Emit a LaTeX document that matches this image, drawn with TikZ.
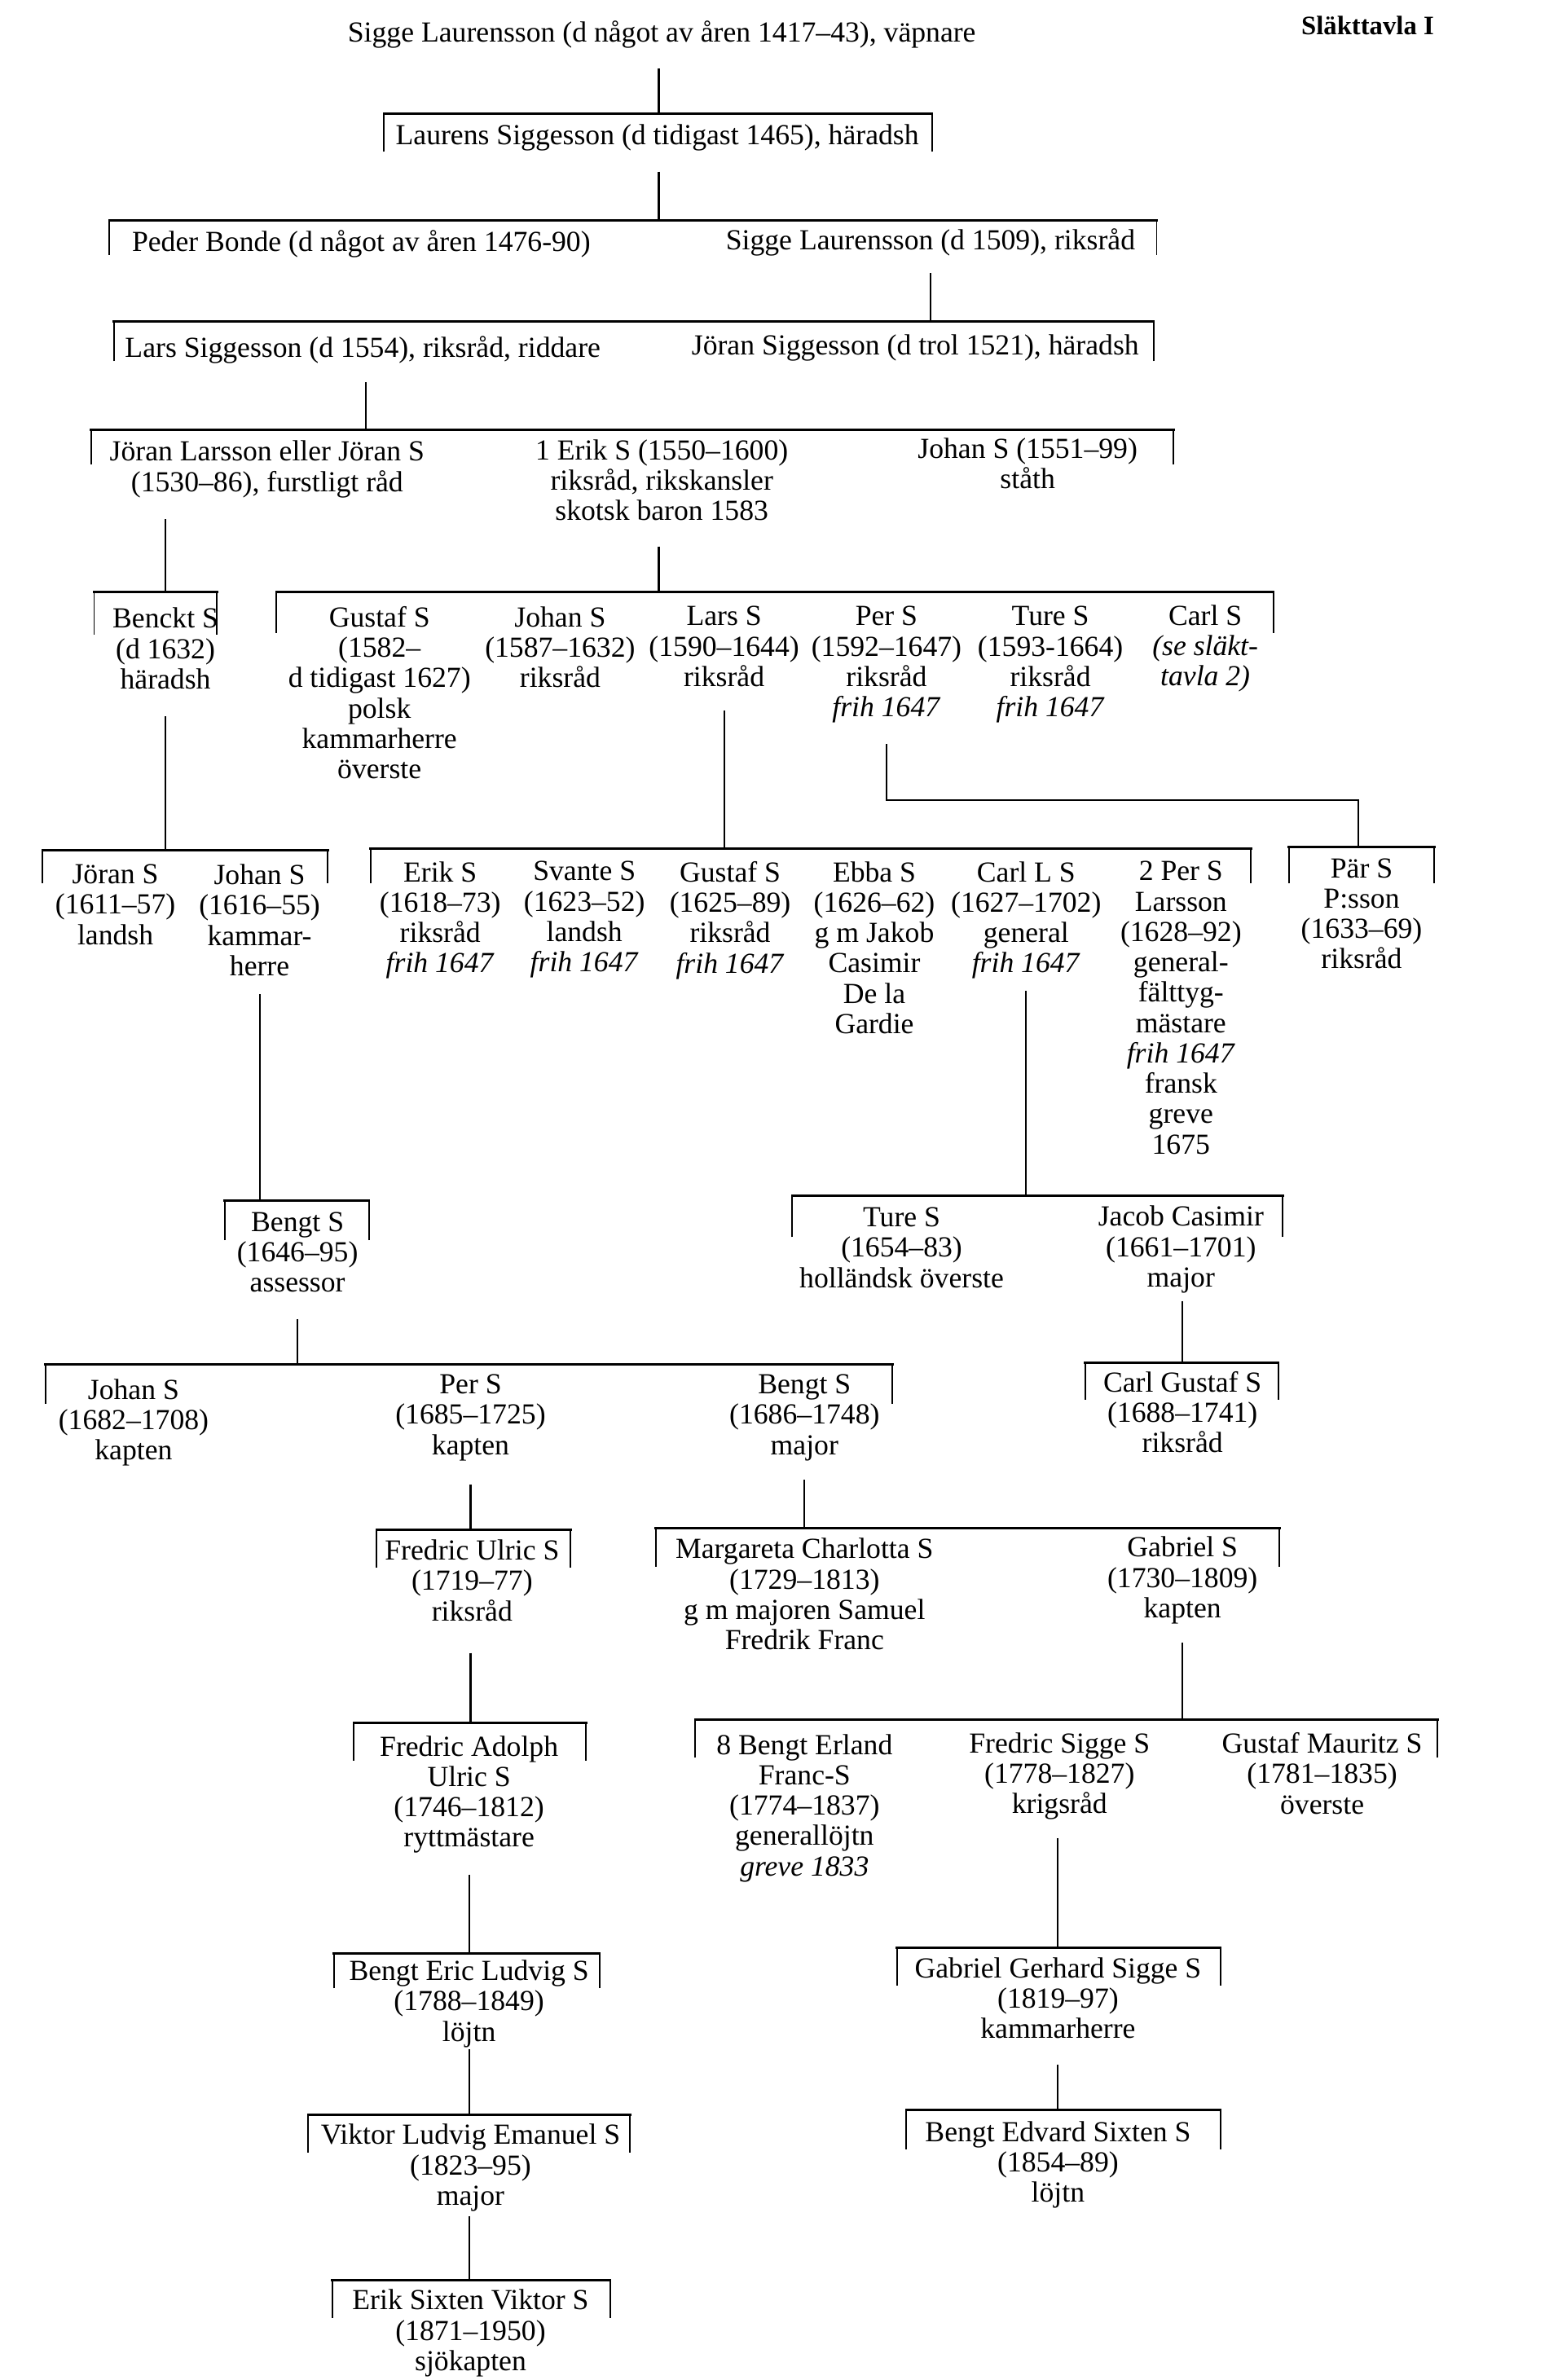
\documentclass[tikz,border=0pt]{standalone}
\usepackage{fontspec}
\setmainfont{Liberation Serif}
\newcommand\famgroup[4]{% xl, xr, ybar, ytickbottom
  \draw[tick] (#1,#4) -- (#1,#3);
  \draw[tick] (#2,#4) -- (#2,#3);
  \draw[bar] (#1,#3) -- (#2,#3);
}
\newcommand\dropline[4]{% name, x, ytop, ybottom
  \coordinate (#1s) at (#2,#3);
  \coordinate (#1e) at (#2,#4);
  \draw[drop] (#1s) -- (#1e);
}
\begin{document}
\begin{tikzpicture}[x=0.018627cm, y=-0.018627cm,
  person/.style={anchor=north, align=center, inner sep=0pt, yshift=-0.04cm, font=\fontsize{10.15pt}{10.6pt}\selectfont, execute at begin node=\strut},
  bar/.style={line width=0.85pt, line cap=rect},
  tick/.style={line width=0.55pt},
  drop/.style={line width=0.6pt}]
\fill[white] (0,0) rectangle (1020,1568);
\useasboundingbox (0,0) rectangle (1020,1568);

% ---------- persons ----------
\node[person] (p0) at (436,11) {Sigge Laurensson (d något av åren 1417–43), väpnare};
\node[anchor=base, inner sep=0pt, font=\bfseries\fontsize{9.3pt}{10pt}\selectfont] (title) at (901,23) {Släkttavla I};

\node[person] (p1) at (433,79) {Laurens Siggesson (d tidigast 1465), häradsh};
\node[person] (p2a) at (238,149) {Peder Bonde (d något av åren 1476-90)};
\node[person] (p2b) at (613,148) {Sigge Laurensson (d 1509), riksråd};
\node[person] (p3a) at (239,219) {Lars Siggesson (d 1554), riksråd, riddare};
\node[person] (p3b) at (603,217) {Jöran Siggesson (d trol 1521), häradsh};
\node[person] (p4a) at (176,288) {Jöran Larsson eller Jöran S\\(1530–86), furstligt råd};
\node[person] (p4b) at (436,287) {1 Erik S (1550–1600)\\riksråd, rikskansler\\skotsk baron 1583};
\node[person] (p4c) at (677,286) {Johan S (1551–99)\\ståth};

\node[person] (p5a) at (109,398) {Benckt S\\(d 1632)\\häradsh};
\node[person] (p5b) at (250,397) {Gustaf S\\(1582–\\d tidigast 1627)\\polsk\\kammarherre\\överste};
\node[person] (p5c) at (369,397) {Johan S\\(1587–1632)\\riksråd};
\node[person] (p5d) at (477,397) {Lars S\\(1590–1644)\\riksråd};
\node[person] (p5e) at (584,397) {Per S\\(1592–1647)\\riksråd\\\textit{frih 1647}};
\node[person] (p5f) at (692,397) {Ture S\\(1593-1664)\\riksråd\\\textit{frih 1647}};
\node[person] (p5g) at (794,396) {Carl S\\\textit{(se släkt-}\\\textit{tavla 2)}};

\node[person] (p6a) at (76,567) {Jöran S\\(1611–57)\\landsh};
\node[person] (p6b) at (171,567) {Johan S\\(1616–55)\\kammar-\\herre};
\node[person] (p6c) at (290,565) {Erik S\\(1618–73)\\riksråd\\\textit{frih 1647}};
\node[person] (p6d) at (385,565) {Svante S\\(1623–52)\\landsh\\\textit{frih 1647}};
\node[person] (p6e) at (481,565) {Gustaf S\\(1625–89)\\riksråd\\\textit{frih 1647}};
\node[person] (p6f) at (576,565) {Ebba S\\(1626–62)\\g m Jakob\\Casimir\\De la\\Gardie};
\node[person] (p6g) at (676,565) {Carl L S\\(1627–1702)\\general\\\textit{frih 1647}};
\node[person] (p6h) at (778,565) {2 Per S\\Larsson\\(1628–92)\\general-\\fälttyg-\\mästare\\\textit{frih 1647}\\fransk\\greve\\1675};
\node[person] (p6i) at (897,563) {Pär S\\P:sson\\(1633–69)\\riksråd};

\node[person] (p7a) at (196,796) {Bengt S\\(1646–95)\\assessor};
\node[person] (p7b) at (594,793) {Ture S\\(1654–83)\\holländsk överste};
\node[person] (p7c) at (778,792) {Jacob Casimir\\(1661–1701)\\major};

\node[person] (p8a) at (88,906) {Johan S\\(1682–1708)\\kapten};
\node[person] (p8b) at (310,903) {Per S\\(1685–1725)\\kapten};
\node[person] (p8c) at (530,903) {Bengt S\\(1686–1748)\\major};
\node[person] (p8d) at (779,901) {Carl Gustaf S\\(1688–1741)\\riksråd};

\node[person] (p9a) at (311,1012) {Fredric Ulric S\\(1719–77)\\riksråd};
\node[person] (p9b) at (530,1011) {Margareta Charlotta S\\(1729–1813)\\g m majoren Samuel\\Fredrik Franc};
\node[person] (p9c) at (779,1010) {Gabriel S\\(1730–1809)\\kapten};

\node[person] (p10a) at (309,1141) {Fredric Adolph\\Ulric S\\(1746–1812)\\ryttmästare};
\node[person] (p10b) at (530,1140) {8 Bengt Erland\\Franc-S\\(1774–1837)\\generallöjtn\\\textit{greve 1833}};
\node[person] (p10c) at (698,1139) {Fredric Sigge S\\(1778–1827)\\krigsråd};
\node[person] (p10d) at (871,1139) {Gustaf Mauritz S\\(1781–1835)\\överste};

\node[person] (p11a) at (309,1289) {Bengt Eric Ludvig S\\(1788–1849)\\löjtn};
\node[person] (p11b) at (697,1287) {Gabriel Gerhard Sigge S\\(1819–97)\\kammarherre};

\node[person] (p12a) at (310,1397) {Viktor Ludvig Emanuel S\\(1823–95)\\major};
\node[person] (p12b) at (697,1395) {Bengt Edvard Sixten S\\(1854–89)\\löjtn};

\node[person] (p13a) at (310,1506) {Erik Sixten Viktor S\\(1871–1950)\\sjökapten};

% ---------- family brackets ----------
\famgroup{253}{614}{75}{100}
\famgroup{72}{762}{145}{168}
\famgroup{75}{760}{212}{238}
\famgroup{60}{773}{283}{306}
\famgroup{62}{143}{390}{418}
\famgroup{182}{839}{390}{417}
\famgroup{28}{216}{560}{582}
\famgroup{244}{824}{559}{582}
\famgroup{849}{945}{558}{582}
\famgroup{148}{243}{791}{817}
\famgroup{522}{845}{788}{815}
\famgroup{30}{588}{899}{925}
\famgroup{715}{842}{898}{922}
\famgroup{248}{376}{1008}{1033}
\famgroup{432}{843}{1007}{1032}
\famgroup{233}{386}{1135}{1160}
\famgroup{458}{947}{1133}{1158}
\famgroup{220}{395}{1287}{1310}
\famgroup{591}{804}{1283}{1308}
\famgroup{203}{415}{1393}{1418}
\famgroup{597}{804}{1390}{1416}
\famgroup{219}{402}{1502}{1527}

% ---------- descent lines ----------
\dropline{d1}{434}{45}{75}
\dropline{d2}{434}{113}{145}
\dropline{d3}{613}{180}{212}
\dropline{d4}{241}{252}{283}
\dropline{d5}{109}{342}{390}
\dropline{d6}{434}{360}{390}
\dropline{d7}{109}{472}{560}
\dropline{d8}{477}{468}{559}
\coordinate (d9s) at (584,490);
\coordinate (d9k) at (895,527);
\coordinate (d9e) at (895,558);
\draw[drop] (d9s) |- (d9k) -- (d9e);
\dropline{d10}{171}{655}{791}
\dropline{d11}{676}{653}{788}
\dropline{d12}{196}{869}{899}
\dropline{d13}{779}{857}{898}
\dropline{d14}{310}{978}{1008}
\dropline{d15}{530}{975}{1007}
\dropline{d16}{310}{1089}{1135}
\dropline{d17}{779}{1082}{1133}
\dropline{d18}{309}{1235}{1287}
\dropline{d19}{697}{1211}{1283}
\dropline{d20}{309}{1350}{1393}
\dropline{d21}{697}{1360}{1390}
\dropline{d22}{309}{1460}{1502}
\end{tikzpicture}
\end{document}
